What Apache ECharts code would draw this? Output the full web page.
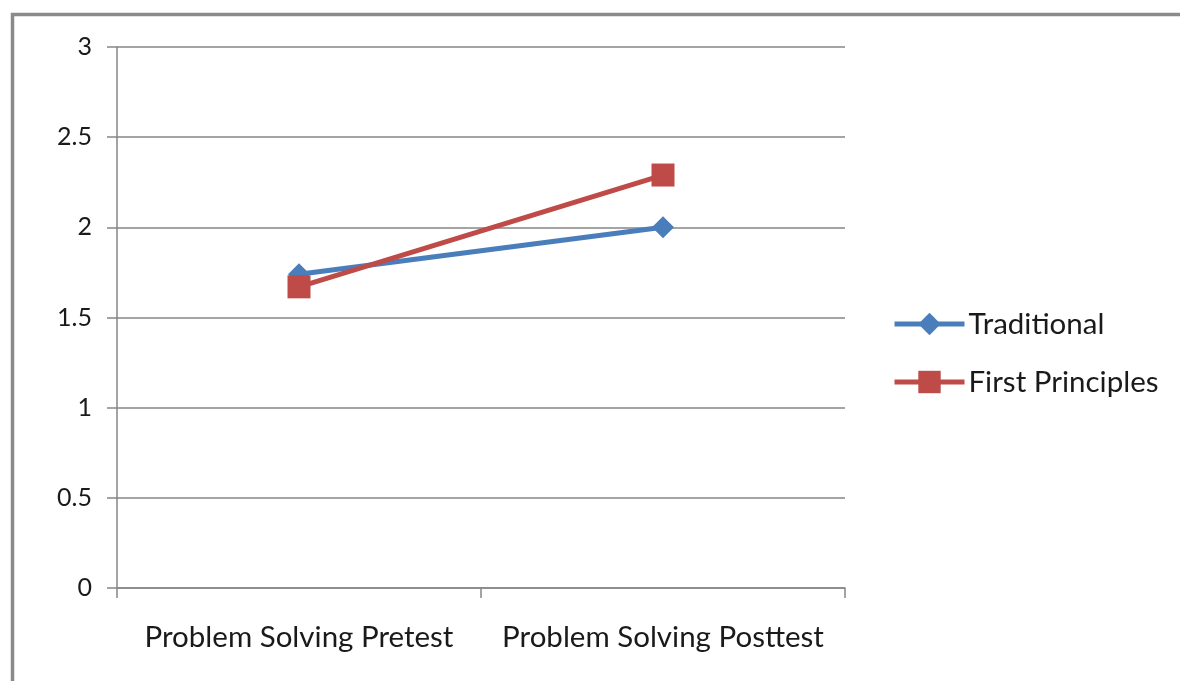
<!DOCTYPE html>
<html>
<head>
<meta charset="utf-8">
<script src="https://cdn.jsdelivr.net/npm/echarts@6/dist/echarts.min.js"></script>
<style>
  html, body { margin: 0; padding: 0; background: #ffffff; }
  #chart { width: 1180px; height: 681px; }
</style>
</head>
<body>
<div id="chart"></div>
<script>
// Mean scores by test phase for the two teaching approaches
const categories = ['Problem Solving Pretest', 'Problem Solving Posttest'];
const traditional = [1.74, 2.0];
const firstPrinciples = [1.67, 2.29];
const seriesNames = ['Traditional', 'First Principles'];

const FONT = 'Lato, "Open Sans", sans-serif';
const chart = echarts.init(document.getElementById('chart'), null, { renderer: 'canvas' });

chart.setOption({
  animation: false,
  backgroundColor: '#ffffff',
  graphic: [{
    type: 'rect',
    left: 10, top: 12,
    shape: { width: 1220, height: 720 },
    style: { fill: 'none', stroke: '#8a8a8a', lineWidth: 3.5 },
    silent: true
  }],
  grid: { left: 117, top: 47, width: 728, height: 541, containLabel: false },
  legend: {
    orient: 'vertical',
    left: 892, top: 309,
    padding: 0,
    itemGap: 28,
    itemWidth: 70,
    itemHeight: 28,
    data: seriesNames,
    lineStyle: { width: 5 },
    textStyle: { fontFamily: FONT, fontSize: 29.5, color: '#1a1a1a', padding: [0, 0, 0, -1] }
  },
  xAxis: {
    type: 'category',
    data: categories,
    boundaryGap: true,
    axisLine: { lineStyle: { color: '#868686', width: 1.5 } },
    axisTick: { show: true, alignWithLabel: false, length: 10, lineStyle: { color: '#868686', width: 1.5 } },
    axisLabel: { interval: 0, hideOverlap: false, fontFamily: FONT, fontSize: 29.5, color: '#1a1a1a', margin: 34 },
    splitLine: { show: false }
  },
  yAxis: {
    type: 'value',
    min: 0, max: 3, interval: 0.5,
    axisLine: { show: true, lineStyle: { color: '#868686', width: 1.5 } },
    axisTick: { show: true, length: 10, lineStyle: { color: '#868686', width: 1.5 } },
    axisLabel: { fontFamily: FONT, fontSize: 25, color: '#1a1a1a', margin: 25 },
    splitLine: { show: true, lineStyle: { color: '#868686', width: 1.5 } }
  },
  series: [
    {
      name: seriesNames[0],
      type: 'line',
      data: traditional,
      symbol: 'diamond',
      symbolSize: 22,
      itemStyle: { color: '#4a7ebb' },
      lineStyle: { color: '#4a7ebb', width: 5 }
    },
    {
      name: seriesNames[1],
      type: 'line',
      data: firstPrinciples,
      symbol: 'rect',
      symbolSize: 23,
      itemStyle: { color: '#be4b48' },
      lineStyle: { color: '#be4b48', width: 5 }
    }
  ]
});
</script>
</body>
</html>
